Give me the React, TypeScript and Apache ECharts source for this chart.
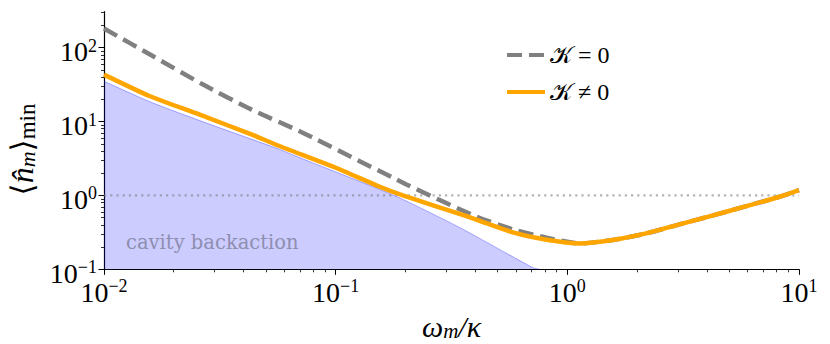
import React, { useEffect, useRef } from "react";
import * as echarts from "echarts";

// ---- data (omega_m / kappa, <n_m>_min) ----
const omegaKerr = [0.01, 0.0158, 0.0259, 0.0427, 0.0564, 0.1, 0.155, 0.195, 0.367, 0.419, 0.581, 0.813, 1.13, 1.57, 2.19, 3.05, 4.26, 5.93, 8.24, 10];
const nKerr = [43.2, 22.0, 12.4, 6.8, 4.74, 2.37, 1.31, 1.0, 0.525, 0.452, 0.316, 0.251, 0.224, 0.249, 0.306, 0.406, 0.537, 0.716, 0.959, 1.18];

const omegaNoKerr = [0.01, 0.0161, 0.0264, 0.0434, 0.0724, 0.202, 0.406, 0.581, 0.813, 1.13, 1.57, 2.19, 3.05, 4.26, 5.93, 8.24, 10];
const nNoKerr = [182, 78.2, 32.4, 14.5, 7.01, 1.41, 0.515, 0.348, 0.268, 0.224, 0.249, 0.306, 0.406, 0.537, 0.716, 0.959, 1.18];

const omegaBackaction = [0.01, 0.0158, 0.0259, 0.0574, 0.0702, 0.18, 0.344, 0.711, 0.76];
const nBackaction = [35.1, 18.5, 10.3, 4.19, 3.23, 0.991, 0.366, 0.105, 0.1];

const omegaUnity = [0.01, 10];
const nUnity = [1, 1];

const xMajorTicks = [0.01, 0.1, 1, 10];
const yMajorTicks = [0.1, 1, 10, 100];
const xDecades = [0.01, 0.1, 1];
const yDecades = [0.1, 1, 10, 100];
const minorMultipliers = [2, 3, 4, 5, 6, 7, 8, 9];

const xMin = 0.01;
const xMax = 10;
const yMin = 0.1;
const yMax = 307;

const legendNoKerr = "𝒦 = 0";
const legendKerr = "𝒦 ≠ 0";
const regionLabel = "cavity backaction";

const MATH_FONT = "Liberation Serif, DejaVu Serif, serif";
const TEXT_FONT = "DejaVu Serif, serif";

const pairs = (xs: number[], ys: number[]) => xs.map((x, i) => [x, ys[i]]);

function minorTicks(decades: number[], max: number) {
  const out: number[] = [];
  decades.forEach((d) => minorMultipliers.forEach((m) => {
    const v = +(d * m).toPrecision(6);
    if (v <= max) out.push(v);
  }));
  return out;
}

function powLabel(v: number) {
  const e = Math.round(Math.log10(v));
  const s = e < 0 ? "\u2212" + -e : String(e);
  return `{b|10}{s|${s}}`;
}

export default function App() {
  const ref = useRef<HTMLDivElement>(null);
  useEffect(() => {
    document.body.style.margin = "0";
    const chart = echarts.init(ref.current!, null, { renderer: "svg" });
    const tickRich = {
      b: { fontFamily: MATH_FONT, fontSize: 28, lineHeight: 30, color: "#000" },
      s: { fontFamily: MATH_FONT, fontSize: 18, lineHeight: 18, verticalAlign: "top", color: "#000" },
    };
    const axisLineStyle = { color: "#000", width: 1.2 };
    const option: any = {
      animation: false,
      backgroundColor: "#fff",
      textStyle: { fontFamily: MATH_FONT },
      grid: { left: 104, right: 31, top: 11.7, bottom: 74.7, outerBoundsMode: "none", containLabel: false },
      legend: {
        data: [legendNoKerr, legendKerr],
        orient: "vertical",
        left: 500,
        top: 37,
        itemWidth: 38,
        itemHeight: 26,
        itemGap: 11,
        textStyle: { fontFamily: MATH_FONT, fontSize: 24, color: "#000", lineHeight: 26 },
        lineStyle: { width: 4 },
        itemStyle: { opacity: 0 },
      },
      xAxis: [
        {
          type: "log",
          logBase: 10,
          min: xMin,
          max: xMax,
          position: "bottom",
          axisLine: { show: true, lineStyle: axisLineStyle },
          axisTick: { show: true, length: 5.5, lineStyle: { color: "#000", width: 1 }, customValues: xMajorTicks },
          axisLabel: { customValues: xMajorTicks, formatter: powLabel, margin: 8, rich: tickRich, fontFamily: MATH_FONT },
          splitLine: { show: false },
          name: "{i|ω}{m|m}{i|/κ}",
          nameLocation: "middle",
          nameGap: 36,
          nameTextStyle: {
            color: "#000",
            fontFamily: MATH_FONT,
            rich: {
              i: { fontFamily: MATH_FONT, fontStyle: "italic", fontSize: 30, lineHeight: 30, color: "#000" },
              m: { fontFamily: MATH_FONT, fontStyle: "italic", fontSize: 21, lineHeight: 20, verticalAlign: "bottom", color: "#000" },
            },
          },
        },
        {
          type: "log",
          logBase: 10,
          min: xMin,
          max: xMax,
          position: "bottom",
          axisLine: { show: false },
          axisTick: { show: true, length: 3, lineStyle: { color: "#000", width: 0.8 }, customValues: minorTicks(xDecades, xMax) },
          axisLabel: { show: false },
          splitLine: { show: false },
        },
      ],
      yAxis: [
        {
          type: "log",
          logBase: 10,
          min: yMin,
          max: yMax,
          position: "left",
          axisLine: { show: true, lineStyle: axisLineStyle },
          axisTick: { show: true, length: 5.5, lineStyle: { color: "#000", width: 1 }, customValues: yMajorTicks },
          axisLabel: { customValues: yMajorTicks, formatter: powLabel, margin: 7, rich: tickRich, padding: [8, 0, 0, 0], fontFamily: MATH_FONT },
          splitLine: { show: false },
          name: "{br|⟨}{i|n̂}{m|m}{br|⟩}{s|min}{gap|.}",
          nameLocation: "middle",
          nameRotate: 90,
          nameGap: 62,
          nameTextStyle: {
            color: "#000",
            fontFamily: MATH_FONT,
            rich: {
              br: { fontFamily: "DejaVu Serif, DejaVu Sans, serif", fontSize: 31, lineHeight: 34, color: "#000" },
              i: { fontFamily: MATH_FONT, fontStyle: "italic", fontSize: 32, lineHeight: 34, color: "#000" },
              m: { fontFamily: MATH_FONT, fontStyle: "italic", fontSize: 22, lineHeight: 20, verticalAlign: "bottom", color: "#000" },
              s: { fontFamily: MATH_FONT, fontSize: 23, lineHeight: 20, verticalAlign: "bottom", color: "#000" },
              gap: { width: 18, fontSize: 10, lineHeight: 10, color: "rgba(0,0,0,0)" },
            },
          },
        },
        {
          type: "log",
          logBase: 10,
          min: yMin,
          max: yMax,
          position: "left",
          axisLine: { show: false },
          axisTick: { show: true, length: 3, lineStyle: { color: "#000", width: 0.8 }, customValues: minorTicks(yDecades, yMax) },
          axisLabel: { show: false },
          splitLine: { show: false },
        },
      ],
      series: [
        {
          name: "backaction",
          type: "line",
          xAxisIndex: 0,
          yAxisIndex: 0,
          data: pairs(omegaBackaction, nBackaction),
          symbol: "none",
          smooth: 0.2,
          lineStyle: { color: "rgba(0,0,255,0.3)", width: 1 },
          areaStyle: { color: "rgba(0,0,255,0.2)", opacity: 1, origin: "start" },
          silent: true,
          z: 1,
        },
        {
          name: "unity",
          type: "line",
          data: pairs(omegaUnity, nUnity),
          symbol: "none",
          lineStyle: { color: "rgba(128,128,128,0.6)", width: 2.2, type: [2.2, 4] },
          silent: true,
          z: 2,
        },
        {
          name: legendNoKerr,
          type: "line",
          data: pairs(omegaNoKerr, nNoKerr),
          symbol: "none",
          smooth: 0.2,
          itemStyle: { color: "#808080" },
          lineStyle: { color: "#808080", width: 4.5, type: [15, 7] },
          z: 3,
        },
        {
          name: legendKerr,
          type: "line",
          data: pairs(omegaKerr, nKerr),
          symbol: "none",
          smooth: 0.2,
          itemStyle: { color: "#ffa500" },
          lineStyle: { color: "#ffa500", width: 4.5 },
          z: 4,
        },
      ],
      graphic: [
        {
          type: "text",
          x: 126,
          y: 242.5,
          silent: true,
          z: 5,
          style: {
            text: regionLabel,
            font: `19.5px ${TEXT_FONT}`,
            fill: "#8e8eb0",
            textAlign: "left",
            textVerticalAlign: "middle",
          },
        },
      ],
    };
    chart.setOption(option);
    return () => chart.dispose();
  }, []);
  return <div ref={ref} style={{ width: 830, height: 344 }} />;
}
